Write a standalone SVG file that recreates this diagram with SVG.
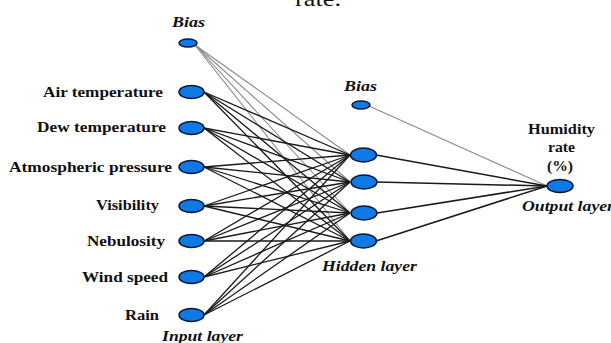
<svg xmlns="http://www.w3.org/2000/svg" width="611" height="343" viewBox="0 0 611 343">
<style>
.lbl{font-family:"Liberation Serif","Times New Roman",serif;font-weight:bold;font-size:14px;fill:#111}
.ital{font-family:"Liberation Serif","Times New Roman",serif;font-weight:bold;font-style:italic;font-size:14px;fill:#111}
.cap{font-family:"Liberation Serif","Times New Roman",serif;font-size:22px;fill:#111}
.node{fill:#0f7ae5;stroke:#0b1838;stroke-width:1.5}
.w{stroke:#1a1a1a;stroke-width:1.3;fill:none}
.b{stroke:#8a8a8a;stroke-width:1.1;fill:none}
.o{stroke:#1a1a1a;stroke-width:1.5;fill:none}
</style>
<rect width="611" height="343" fill="#fff"/>
<text class="cap" x="295" y="6" textLength="46" lengthAdjust="spacingAndGlyphs">rate.</text>
<g id="connectors">
  <g class="b">
    <line x1="195" y1="45" x2="350" y2="155"/>
    <line x1="195" y1="45" x2="350" y2="182"/>
    <line x1="195" y1="45" x2="350" y2="213"/>
    <line x1="195" y1="45" x2="350" y2="241"/>
    <line x1="369" y1="106" x2="547" y2="186"/>
  </g>
  <g class="w">
    <line x1="204" y1="92" x2="350" y2="155"/><line x1="204" y1="92" x2="350" y2="182"/><line x1="204" y1="92" x2="350" y2="213"/><line x1="204" y1="92" x2="350" y2="241"/>
    <line x1="204" y1="128" x2="350" y2="155"/><line x1="204" y1="128" x2="350" y2="182"/><line x1="204" y1="128" x2="350" y2="213"/><line x1="204" y1="128" x2="350" y2="241"/>
    <line x1="204" y1="167" x2="350" y2="155"/><line x1="204" y1="167" x2="350" y2="182"/><line x1="204" y1="167" x2="350" y2="213"/><line x1="204" y1="167" x2="350" y2="241"/>
    <line x1="204" y1="206" x2="350" y2="155"/><line x1="204" y1="206" x2="350" y2="182"/><line x1="204" y1="206" x2="350" y2="213"/><line x1="204" y1="206" x2="350" y2="241"/>
    <line x1="204" y1="241" x2="350" y2="155"/><line x1="204" y1="241" x2="350" y2="182"/><line x1="204" y1="241" x2="350" y2="213"/><line x1="204" y1="241" x2="350" y2="241"/>
    <line x1="204" y1="277" x2="350" y2="155"/><line x1="204" y1="277" x2="350" y2="182"/><line x1="204" y1="277" x2="350" y2="213"/><line x1="204" y1="277" x2="350" y2="241"/>
    <line x1="204" y1="315" x2="350" y2="155"/><line x1="204" y1="315" x2="350" y2="182"/><line x1="204" y1="315" x2="350" y2="213"/><line x1="204" y1="315" x2="350" y2="241"/>
  </g>
  <g class="o">
    <line x1="376" y1="155" x2="547" y2="186"/>
    <line x1="377" y1="182" x2="547" y2="186"/>
    <line x1="377" y1="213" x2="547" y2="186"/>
    <line x1="376" y1="241" x2="547" y2="186"/>
  </g>
</g>
<g id="bias-in"><ellipse class="node" cx="188" cy="43" rx="9" ry="4"/><text class="ital" x="172" y="27" textLength="33" lengthAdjust="spacingAndGlyphs">Bias</text></g>
<g id="in-air"><ellipse class="node" cx="191.5" cy="92" rx="12.5" ry="6.5"/><text class="lbl" x="43" y="96.5" textLength="120" lengthAdjust="spacingAndGlyphs">Air temperature</text></g>
<g id="in-dew"><ellipse class="node" cx="191.5" cy="128" rx="12.5" ry="6.5"/><text class="lbl" x="37" y="132" textLength="129" lengthAdjust="spacingAndGlyphs">Dew temperature</text></g>
<g id="in-atm"><ellipse class="node" cx="191.5" cy="167" rx="12.5" ry="6.5"/><text class="lbl" x="9" y="171.5" textLength="163" lengthAdjust="spacingAndGlyphs">Atmospheric pressure</text></g>
<g id="in-vis"><ellipse class="node" cx="191.5" cy="206" rx="12.5" ry="6.5"/><text class="lbl" x="96" y="210" textLength="63" lengthAdjust="spacingAndGlyphs">Visibility</text></g>
<g id="in-neb"><ellipse class="node" cx="191.5" cy="241" rx="12.5" ry="6.5"/><text class="lbl" x="87" y="245.5" textLength="78" lengthAdjust="spacingAndGlyphs">Nebulosity</text></g>
<g id="in-wind"><ellipse class="node" cx="191.5" cy="277" rx="12.5" ry="6.5"/><text class="lbl" x="82" y="281.5" textLength="86" lengthAdjust="spacingAndGlyphs">Wind speed</text></g>
<g id="in-rain"><ellipse class="node" cx="191.5" cy="315" rx="12.5" ry="6.5"/><text class="lbl" x="125" y="319.5" textLength="34" lengthAdjust="spacingAndGlyphs">Rain</text></g>
<g id="input-label"><text class="ital" x="162" y="341" textLength="81" lengthAdjust="spacingAndGlyphs">Input layer</text></g>
<g id="bias-hid"><ellipse class="node" cx="361" cy="105" rx="9" ry="4"/><text class="ital" x="344" y="91" textLength="33" lengthAdjust="spacingAndGlyphs">Bias</text></g>
<g id="h1"><ellipse class="node" cx="363.5" cy="155" rx="13" ry="7"/></g>
<g id="h2"><ellipse class="node" cx="364" cy="182" rx="13" ry="7"/></g>
<g id="h3"><ellipse class="node" cx="364" cy="213" rx="13" ry="7"/></g>
<g id="h4"><ellipse class="node" cx="363.5" cy="241" rx="13" ry="7"/></g>
<g id="hidden-label"><text class="ital" x="322" y="271" textLength="95" lengthAdjust="spacingAndGlyphs">Hidden layer</text></g>
<g id="output"><ellipse class="node" cx="560" cy="186" rx="13" ry="6.5"/>
<text class="lbl" x="528" y="134" textLength="67" lengthAdjust="spacingAndGlyphs">Humidity</text>
<text class="lbl" x="548" y="152" textLength="27" lengthAdjust="spacingAndGlyphs">rate</text>
<text class="lbl" x="547" y="171" textLength="26" lengthAdjust="spacingAndGlyphs">(%)</text>
<text class="ital" x="522" y="211" textLength="92" lengthAdjust="spacingAndGlyphs">Output layer</text></g>
</svg>
